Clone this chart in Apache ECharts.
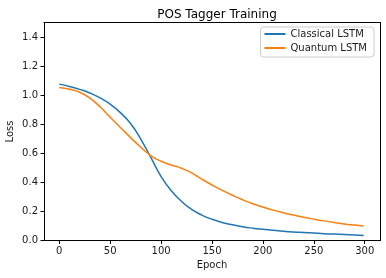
<!DOCTYPE html>
<html>
<head>
<meta charset="utf-8">
<script src="https://cdn.jsdelivr.net/npm/echarts@6/dist/echarts.min.js"></script>
<style>html,body{margin:0;padding:0;background:#fff;}#c{width:386px;height:278px;}</style>
</head>
<body>
<div id="c"></div>
<script>
const epochs    = [0,10,20,30,40,50,60,70,80,90,100,110,120,130,140,150,160,170,180,190,200,210,220,230,240,250,260,270,280,290,299];
const classical = [1.076,1.060,1.040,1.015,0.982,0.938,0.880,0.805,0.698,0.570,0.440,0.342,0.270,0.214,0.175,0.146,0.124,0.108,0.095,0.085,0.077,0.070,0.064,0.059,0.055,0.051,0.047,0.044,0.041,0.038,0.035];
const quantum   = [1.053,1.040,1.020,0.980,0.920,0.848,0.778,0.708,0.642,0.583,0.545,0.520,0.497,0.465,0.422,0.382,0.345,0.311,0.280,0.253,0.230,0.209,0.191,0.175,0.160,0.147,0.135,0.124,0.114,0.106,0.099];
const xTicks = [0,50,100,150,200,250,300];
const yTicks = [0,0.2,0.4,0.6,0.8,1.0,1.2,1.4];
const seriesNames = ['Classical LSTM','Quantum LSTM'];

const pairs = (ys) => epochs.map((e,i) => [e, ys[i]]);
const font = 'DejaVu Sans';
const txt = {fontFamily: font, fontSize: 10, color: '#1a1a1a'};
const frameAxis = {
  axisLine: {show: true, onZero: false, lineStyle: {color: '#000', width: 1}},
  axisTick: {show: false}, axisLabel: {show: false}, splitLine: {show: false}
};
const chart = echarts.init(document.getElementById('c'), null, {renderer:'canvas'});
chart.setOption({
  animation: false,
  title: {
    text: 'POS Tagger Training', left: 212, top: 4, textAlign: 'center',
    textStyle: {fontFamily: font, fontSize: 12, fontWeight: 'normal', color: '#000'}
  },
  legend: {
    data: seriesNames, orient: 'vertical', right: 12, top: 27,
    icon: 'rect', itemWidth: 21, itemHeight: 2, itemGap: 4,
    padding: [2,7,4,4],
    borderColor: '#cccccc', borderWidth: 1, borderRadius: 3, backgroundColor: '#fff',
    textStyle: txt
  },
  grid: {left: 44, right: 6, top: 22.5, bottom: 37.5, containLabel: false, outerBoundsMode: 'none'},
  xAxis: [{
    type: 'value', min: -15, max: 315,
    name: 'Epoch', nameLocation: 'middle', nameGap: 20, nameMoveOverlap: false, nameTextStyle: txt,
    axisLine: {show: true, onZero: false, lineStyle: {color: '#000', width: 1}},
    axisTick: {show: true, inside: false, length: 3.5, customValues: xTicks, lineStyle: {color: '#000'}},
    axisLabel: Object.assign({customValues: xTicks, margin: 6}, txt),
    splitLine: {show: false}
  }, Object.assign({type: 'value', min: -15, max: 315, position: 'top'}, frameAxis)],
  yAxis: [{
    type: 'value', min: 0, max: 1.5,
    name: 'Loss', nameLocation: 'middle', nameGap: 29, nameMoveOverlap: false, nameTextStyle: txt,
    axisLine: {show: true, onZero: false, lineStyle: {color: '#000', width: 1}},
    axisTick: {show: true, inside: false, length: 3.5, customValues: yTicks, lineStyle: {color: '#000'}},
    axisLabel: Object.assign({customValues: yTicks, margin: 6, formatter: (v) => v.toFixed(1)}, txt),
    splitLine: {show: false}
  }, Object.assign({type: 'value', min: 0, max: 1.5, position: 'right'}, frameAxis)],
  series: [
    {name: seriesNames[0], type: 'line', data: pairs(classical), smooth: 0.5, symbol: 'none',
     lineStyle: {color: '#1f77b4', width: 1.5}, itemStyle: {color: '#1f77b4'}},
    {name: seriesNames[1], type: 'line', data: pairs(quantum), smooth: 0.5, symbol: 'none',
     lineStyle: {color: '#ff7f0e', width: 1.5}, itemStyle: {color: '#ff7f0e'}}
  ]
});
</script>
</body>
</html>
